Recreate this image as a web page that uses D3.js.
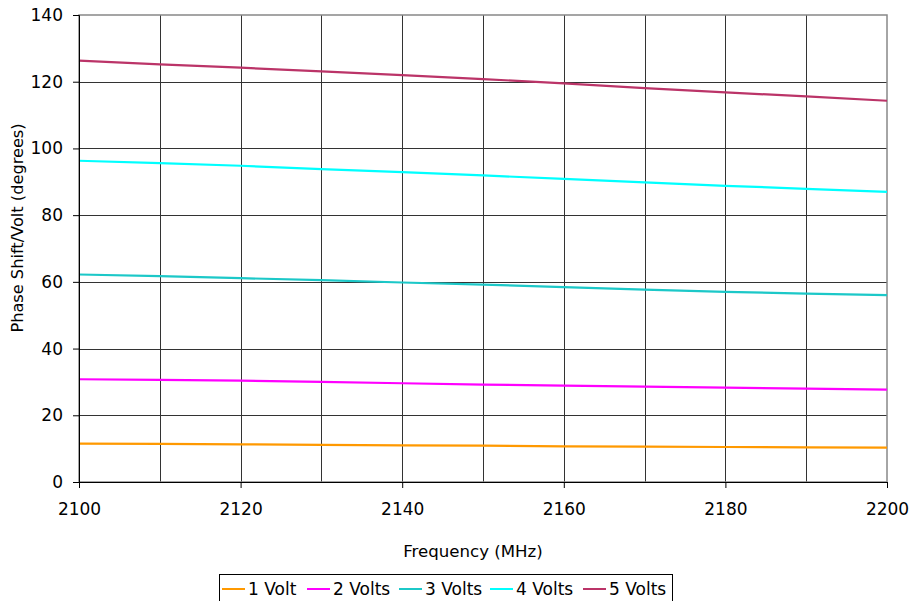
<!DOCTYPE html>
<html>
<head>
<meta charset="utf-8">
<script src="https://cdn.jsdelivr.net/npm/d3@7"></script>
<style>
  body { margin: 0; background: #fff; }
  svg { font-family: "DejaVu Sans", Verdana, sans-serif; }
</style>
</head>
<body>
<div id="chart"></div>
<script>
const freqs = [2100, 2110, 2120, 2130, 2140, 2150, 2160, 2170, 2180, 2190, 2200];
const seriesNames = ["1 Volt", "2 Volts", "3 Volts", "4 Volts", "5 Volts"];
const volt1 = [11.5, 11.4, 11.3, 11.1, 11.0, 10.9, 10.7, 10.6, 10.5, 10.4, 10.3];
const volt2 = [30.8, 30.6, 30.4, 30.0, 29.6, 29.2, 28.9, 28.6, 28.3, 28.0, 27.7];
const volt3 = [62.2, 61.7, 61.1, 60.5, 59.8, 59.2, 58.4, 57.7, 57.0, 56.5, 56.0];
const volt4 = [96.3, 95.6, 94.8, 93.8, 92.9, 91.9, 90.9, 89.8, 88.8, 87.9, 87.0];
const volt5 = [126.3, 125.2, 124.2, 123.1, 122.0, 120.8, 119.5, 118.1, 116.8, 115.6, 114.3];
const colors = ["#FF9900", "#FF00FF", "#1CC8C8", "#00FFFF", "#BB3468"];
const xTicks = [2100, 2120, 2140, 2160, 2180, 2200];
const yTicks = [0, 20, 40, 60, 80, 100, 120, 140];

const width = 910, height = 601;
const margin = {left: 79, top: 15, right: 23, bottom: 119};

const svg = d3.select("#chart").append("svg")
  .attr("width", width)
  .attr("height", height);

const x = d3.scaleLinear()
  .domain([2100, 2200])
  .range([margin.left, width - margin.right]);
const y = d3.scaleLinear()
  .domain([0, 140])
  .range([height - margin.bottom, margin.top]);

// grid
const grid = svg.append("g");
grid.selectAll(".gx")
  .data(d3.range(2110, 2200, 10))
  .join("line")
  .attr("x1", d => Math.round(x(d)) + 0.5)
  .attr("x2", d => Math.round(x(d)) + 0.5)
  .attr("y1", y(140))
  .attr("y2", y(0))
  .attr("stroke", "#333")
  .attr("stroke-width", 1);
grid.selectAll(".gy")
  .data(yTicks.slice(1, -1))
  .join("line")
  .attr("x1", x(2100))
  .attr("x2", x(2200))
  .attr("y1", d => Math.round(y(d)) + 0.5)
  .attr("y2", d => Math.round(y(d)) + 0.5)
  .attr("stroke", "#333")
  .attr("stroke-width", 1);

// frame
svg.append("rect")
  .attr("x", x(2100))
  .attr("y", y(140))
  .attr("width", x(2200) - x(2100))
  .attr("height", y(0) - y(140))
  .attr("fill", "none")
  .attr("stroke", "#888")
  .attr("stroke-width", 1.5);

// series
const allSeries = [volt1, volt2, volt3, volt4, volt5];
const line = d3.line()
  .x((d, i) => x(freqs[i]))
  .y(d => y(d));

svg.append("g")
  .selectAll("path")
  .data(allSeries)
  .join("path")
  .attr("d", line)
  .attr("fill", "none")
  .attr("stroke", (d, i) => colors[i])
  .attr("stroke-width", 2.2);

// axes
const xAxis = d3.axisBottom(x).tickValues(xTicks).tickSize(6).tickPadding(15).tickFormat(d3.format("d"));
const yAxis = d3.axisLeft(y).tickValues(yTicks).tickSize(6).tickPadding(10);

svg.append("g")
  .attr("transform", `translate(0, ${y(0)})`)
  .call(xAxis)
  .call(g => g.select(".domain").attr("stroke", "#000"))
  .selectAll("text")
  .attr("font-size", 17)
  .attr("font-family", "DejaVu Sans")
  .attr("fill", "#000");

svg.append("g")
  .attr("transform", `translate(${x(2100)}, 0)`)
  .call(yAxis)
  .call(g => g.select(".domain").attr("stroke", "#000"))
  .selectAll("text")
  .attr("font-size", 17)
  .attr("font-family", "DejaVu Sans")
  .attr("fill", "#000");

// axis titles
svg.append("text")
  .attr("x", 473)
  .attr("y", 557)
  .attr("text-anchor", "middle")
  .attr("font-size", 16.6)
  .text("Frequency (MHz)");

svg.append("text")
  .attr("transform", "translate(23, 228) rotate(-90)")
  .attr("text-anchor", "middle")
  .attr("font-size", 16.2)
  .text("Phase Shift/Volt (degrees)");

// legend
const legend = svg.append("g");
legend.append("rect")
  .attr("x", 219.5)
  .attr("y", 574.5)
  .attr("width", 453)
  .attr("height", 30)
  .attr("fill", "#fff")
  .attr("stroke", "#000")
  .attr("stroke-width", 1);

const legendX = [222, 307, 399, 490, 583];
const item = legend.selectAll(".item")
  .data(seriesNames)
  .join("g")
  .attr("transform", (d, i) => `translate(${legendX[i]}, 589)`);
item.append("line")
  .attr("x1", 0).attr("x2", 23)
  .attr("stroke", (d, i) => colors[i])
  .attr("stroke-width", 2);
item.append("text")
  .attr("x", 26)
  .attr("y", 6)
  .attr("font-size", 17)
  .text(d => d);
</script>
</body>
</html>
